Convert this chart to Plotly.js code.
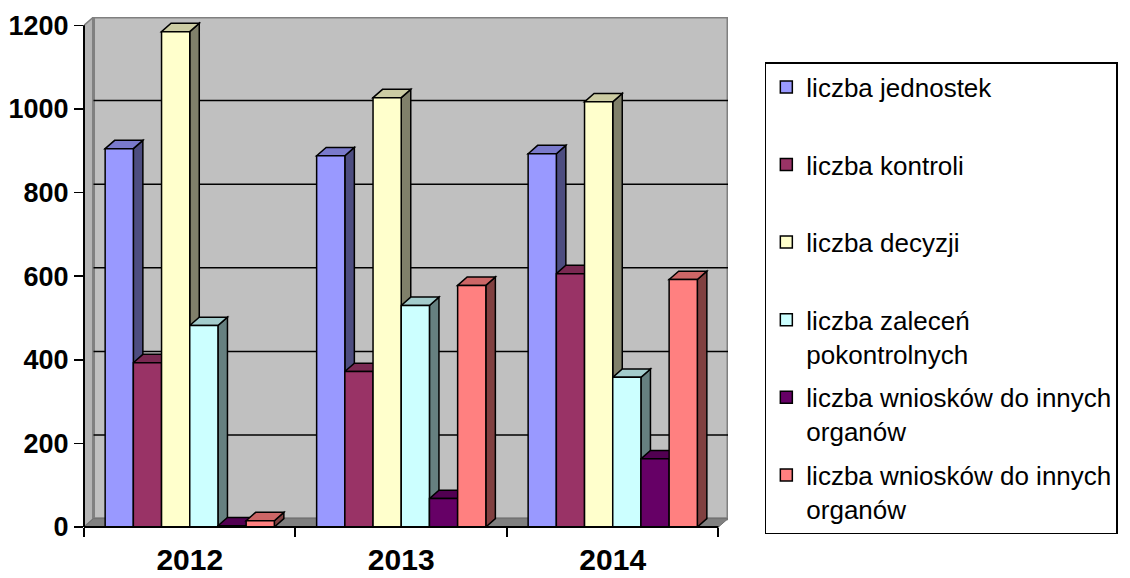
<!DOCTYPE html>
<html>
<head>
<meta charset="utf-8">
<script src="https://cdn.plot.ly/plotly-3.0.1.min.js"></script>
<style>html,body{margin:0;padding:0;background:#fff;}#chart{width:1130px;height:578px;}</style>
</head>
<body>
<div id="chart"></div>
<script>
// ---- data ----
const categories = ['2012', '2013', '2014'];
const seriesNames = [
  'liczba jednostek',
  'liczba kontroli',
  'liczba decyzji',
  'liczba zaleceń<br>pokontrolnych',
  'liczba wniosków do innych<br>organów',
  'liczba wniosków do innych<br>organów'
];
const jednostek = [905, 888, 893];
const kontroli = [393, 372, 606];
const decyzji = [1185, 1027, 1017];
const zalecen = [482, 530, 358];
const wnioski1 = [3, 68, 163];
const wnioski2 = [15, 578, 592];
const yTicks = [0, 200, 400, 600, 800, 1000, 1200];

const seriesValues = [jednostek, kontroli, decyzji, zalecen, wnioski1, wnioski2];
const frontColors = ['#9999ff', '#993366', '#ffffcc', '#ccffff', '#660066', '#ff8080'];
const topColors   = ['#7a7acc', '#7a2952', '#cccca3', '#a3cccc', '#520052', '#cc6666'];
const sideColors  = ['#4d4d80', '#4d1a33', '#80806a', '#668080', '#330033', '#804040'];

// ---- geometry of the pseudo-3D look ----
const bargap = 0.2;
const nS = seriesValues.length;
const bw = (1 - bargap) / nS;
const dX = 0.045;   // depth offset along x (category units)
const dY = 20;      // depth offset along y (value units)
const yMax = 1200;
const yTop = yMax + dY;
const xMin = -0.5, xMax = categories.length - 0.5 + dX;

const shapes = [];
// left side wall
shapes.push({type:'path', xref:'x', yref:'y', layer:'below',
  path:`M${xMin},0 L${xMin + dX},${dY} L${xMin + dX},${yTop} L${xMin},${yMax} Z`,
  fillcolor:'#b4b4b4', line:{color:'#808080', width:1.5}});
// back wall
shapes.push({type:'rect', xref:'x', yref:'y', layer:'below',
  x0:xMin + dX, x1:xMax, y0:dY, y1:yTop,
  fillcolor:'#c0c0c0', line:{color:'#808080', width:3}});
// floor
shapes.push({type:'path', xref:'x', yref:'y', layer:'below',
  path:`M${xMin},0 L${xMin + dX},${dY} L${xMax},${dY} L${xMax - dX},0 Z`,
  fillcolor:'#808080', line:{color:'#707070', width:1}});
// gridlines on back wall
yTicks.slice(1, -1).forEach(v => {
  shapes.push({type:'line', xref:'x', yref:'y', layer:'below',
    x0:xMin + dX, x1:xMax, y0:v + dY, y1:v + dY,
    line:{color:'#000000', width:1.5}});
});
// top and side faces of bars
seriesValues.forEach((vals, j) => {
  vals.forEach((v, i) => {
    const left = i - (1 - bargap) / 2 + j * bw;
    const right = left + bw;
    shapes.push({type:'path', xref:'x', yref:'y', layer:'below',
      path:`M${right},0 L${right},${v} L${right + dX},${v + dY} L${right + dX},${dY} Z`,
      fillcolor:sideColors[j], line:{color:'#000000', width:1.5}});
    shapes.push({type:'path', xref:'x', yref:'y', layer:'below',
      path:`M${left},${v} L${left + dX},${v + dY} L${right + dX},${v + dY} L${right},${v} Z`,
      fillcolor:topColors[j], line:{color:'#000000', width:1.5}});
  });
});
// front axis lines (paper coordinates derived from axis ranges)
const xSpan = xMax - xMin;
shapes.push({type:'line', xref:'paper', yref:'paper', layer:'above',
  x0:0, x1:0, y0:0, y1:yMax / yTop, line:{color:'#000000', width:2}});
shapes.push({type:'line', xref:'paper', yref:'paper', layer:'above',
  x0:0, x1:(categories.length - 0.5 - xMin) / xSpan, y0:0, y1:0, line:{color:'#000000', width:2}});

const traces = seriesValues.map((vals, j) => ({
  type:'bar',
  name: seriesNames[j].indexOf('<br>') >= 0 ? seriesNames[j] : seriesNames[j] + '<br>\u00a0',
  x: categories,
  y: vals,
  legendgroup: 'g' + j,
  marker:{color:frontColors[j], line:{color:'#000000', width:1.5}},
  hoverinfo:'skip'
}));

const layout = {
  width:1130, height:578,
  margin:{l:84, r:399, t:17, b:51},
  paper_bgcolor:'#ffffff', plot_bgcolor:'rgba(0,0,0,0)',
  barmode:'group', bargap:bargap, bargroupgap:0,
  font:{family:'Liberation Sans, Arial, sans-serif', color:'#000000'},
  xaxis:{type:'category', range:[xMin, xMax], tickson:'boundaries',
    ticks:'outside', ticklen:9, tickwidth:2, tickcolor:'#000000',
    ticklabelstandoff:12,
    showgrid:false, zeroline:false, showline:false,
    tickfont:{size:30, family:'Liberation Sans, Arial, sans-serif', weight:'bold'},
    fixedrange:true, automargin:false},
  yaxis:{range:[0, yTop], tickvals:yTicks, ticktext:yTicks.map(String),
    ticks:'outside', ticklen:9, tickwidth:1.5, tickcolor:'#000000',
    showgrid:false, zeroline:false, showline:false,
    tickfont:{size:27, family:'Liberation Sans, Arial, sans-serif', weight:'bold'},
    fixedrange:true, automargin:false},
  showlegend:true,
  legend:{x:(768 - 84) / 647, xanchor:'left', y:(527 - 62) / 510, yanchor:'top',
    bgcolor:'#ffffff', bordercolor:'#000000', borderwidth:1.5,
    font:{size:26, family:'Liberation Sans, Arial, sans-serif', color:'#000000'},
    tracegroupgap:7, valign:'top', traceorder:'grouped'},
  shapes:shapes
};

Plotly.newPlot('chart', traces, layout, {displayModeBar:false, staticPlot:true});
</script>
</body>
</html>
